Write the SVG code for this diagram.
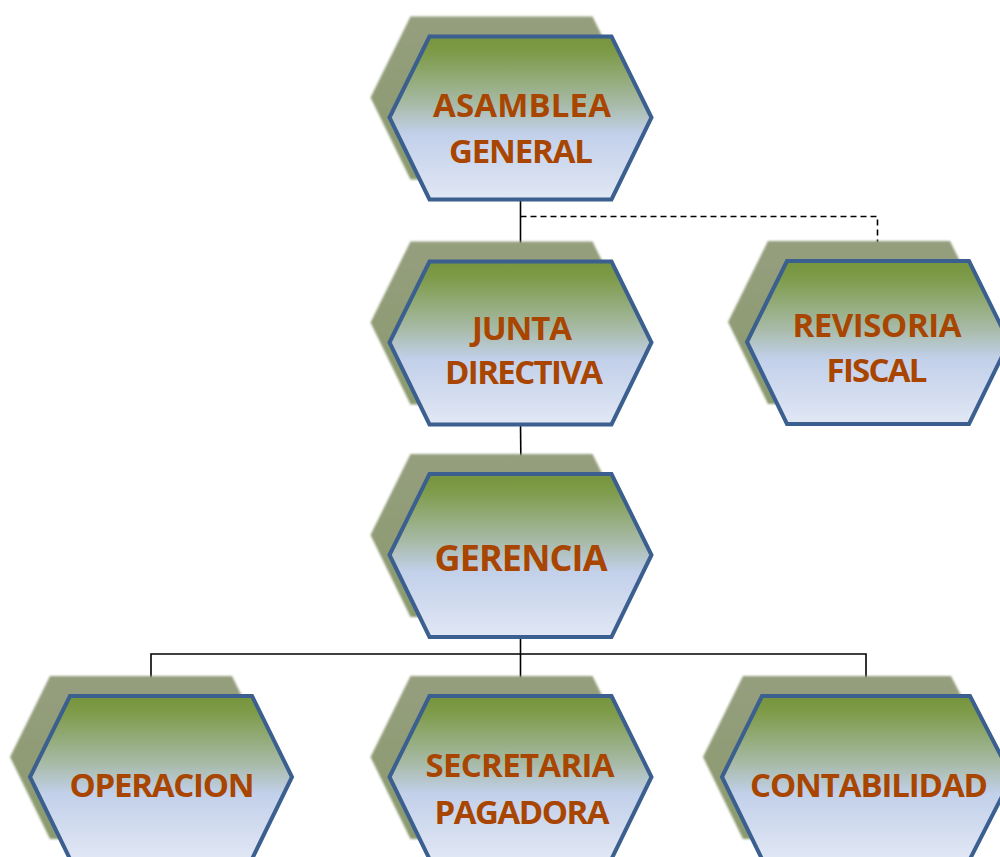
<svg xmlns="http://www.w3.org/2000/svg" xmlns:xlink="http://www.w3.org/1999/xlink" width="1000" height="857" viewBox="0 0 1000 857">
<defs>
<linearGradient id="fillG" x1="0" y1="0" x2="0" y2="1">
<stop offset="0" stop-color="#76953d"/>
<stop offset="0.1" stop-color="#7e9b49"/>
<stop offset="0.42" stop-color="#a8bba9"/>
<stop offset="0.6" stop-color="#c2d0ea"/>
<stop offset="1" stop-color="#e1e7f4"/>
</linearGradient>
<linearGradient id="shadG" x1="0" y1="0" x2="0" y2="1">
<stop offset="0" stop-color="#959e7e"/>
<stop offset="1" stop-color="#8b9a6e"/>
</linearGradient>
<filter id="soft" x="-5%" y="-5%" width="110%" height="110%">
<feGaussianBlur stdDeviation="0.8"/>
</filter>
<polygon id="hex" points="-131,0 -91,-81 91,-81 131,0 91,82 -91,82"/>
<polygon id="hexW" points="-145,0 -105,-81 103,-81 145,0 103,82 -105,82"/>
</defs>
<style>
.sh{fill:url(#shadG);filter:url(#soft)}
.fr{fill:url(#fillG);stroke:#3b5f8e;stroke-width:4;stroke-linejoin:miter}
.t{font-family:"Open Sans","Noto Sans","DejaVu Sans",sans-serif;font-weight:700;font-size:33px;fill:#a84500;text-anchor:middle}
.big{font-size:36px}
.ln{stroke:#000;stroke-width:1.6;fill:none}
.dl{stroke:#000;stroke-width:1.6;fill:none;stroke-dasharray:6,4}
</style>
<g id="connectors">
<path class="ln" d="M520.5,199 V261"/>
<path class="dl" d="M520.5,216.5 H877.5 V260"/>
<path class="ln" d="M520.5,424 L521,473"/>
<path class="ln" d="M520.5,636 V696"/>
<path class="ln" d="M151,696 V654 H866 V696"/>
</g>
<g id="asamblea">
<use xlink:href="#hex" class="sh" x="501.5" y="97.5"/>
<use xlink:href="#hex" class="fr" x="520.5" y="117.5"/>
<text class="t" x="522" y="117" textLength="178">ASAMBLEA</text>
<text class="t" x="521" y="163" textLength="144">GENERAL</text>
</g>
<g id="junta">
<use xlink:href="#hex" class="sh" x="501.5" y="322.5"/>
<use xlink:href="#hex" class="fr" x="520.5" y="342.5"/>
<text class="t" x="522" y="340" textLength="100">JUNTA</text>
<text class="t" x="524" y="384" textLength="158">DIRECTIVA</text>
</g>
<g id="revisoria">
<use xlink:href="#hex" class="sh" x="859" y="322"/>
<use xlink:href="#hex" class="fr" x="878" y="342"/>
<text class="t" x="877" y="337" textLength="169">REVISORIA</text>
<text class="t" x="877" y="382" textLength="101">FISCAL</text>
</g>
<g id="gerencia">
<use xlink:href="#hex" class="sh" x="501.5" y="535"/>
<use xlink:href="#hex" class="fr" x="520.5" y="555"/>
<text class="t big" x="521" y="571" textLength="173">GERENCIA</text>
</g>
<g id="operacion">
<use xlink:href="#hex" class="sh" x="141" y="757"/>
<use xlink:href="#hex" class="fr" x="161" y="777"/>
<text class="t" x="162" y="797" textLength="185">OPERACION</text>
</g>
<g id="secretaria">
<use xlink:href="#hex" class="sh" x="501.5" y="757"/>
<use xlink:href="#hex" class="fr" x="520.5" y="777"/>
<text class="t" x="520" y="777" textLength="189">SECRETARIA</text>
<text class="t" x="522" y="824" textLength="175">PAGADORA</text>
</g>
<g id="contabilidad">
<use xlink:href="#hexW" class="sh" x="848" y="757"/>
<use xlink:href="#hexW" class="fr" x="867" y="777"/>
<text class="t" x="869" y="797" textLength="238">CONTABILIDAD</text>
</g>
</svg>
